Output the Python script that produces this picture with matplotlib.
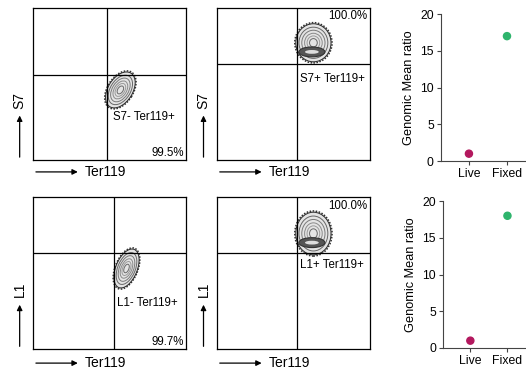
import matplotlib.pyplot as plt
from matplotlib.patches import Ellipse

plt.rcParams['font.family'] = ['Liberation Sans', 'DejaVu Sans']

# flow panels: top-left, top-middle, bottom-left, bottom-middle
stain = ['S7', 'S7', 'L1', 'L1']
gate_names = ['S7- Ter119+', 'S7+ Ter119+', 'L1- Ter119+', 'L1+ Ter119+']
percents = ['99.5%', '100.0%', '99.7%', '100.0%']
gate_x = [48, 52, 53, 52]
gate_y = [56, 63, 63, 63]
# cluster outline: centre x, centre y, width, height, angle (0-100 scale)
clust_x = [57, 63, 61, 63]
clust_y = [46, 77, 53, 76]
clust_w = [26, 23, 27, 23]
clust_h = [16, 25, 14, 28]
clust_ang = [58, 0, 68, 0]
core = [False, True, False, True]

categories = ['Live', 'Fixed']
s7_ratio = [1, 17]
l1_ratio = [1, 18]
dot_colors = ['#b3185e', '#2eb46c']

fig = plt.figure(figsize=(5.26, 3.71), dpi=100)

flow_pos = [[0.063, 0.569, 0.291, 0.410],
            [0.4125, 0.569, 0.291, 0.410],
            [0.063, 0.059, 0.291, 0.410],
            [0.4125, 0.059, 0.291, 0.410]]
label_pos = [(0.52, 0.28), (0.54, 0.53), (0.55, 0.30), (0.54, 0.55)]
pct_y = [0.045, 0.947, 0.05, 0.94]
arrow_y = [-0.079, -0.079, -0.092, -0.092]

for i in range(4):
    ax = fig.add_axes(flow_pos[i])
    ax.set_xlim(0, 100)
    ax.set_ylim(0, 100)
    ax.set_xticks([])
    ax.set_yticks([])
    for s in ax.spines.values():
        s.set_linewidth(0.9)
    ax.axvline(gate_x[i], color='black', lw=0.9)
    ax.axhline(gate_y[i], color='black', lw=0.9)

    # contour-like cluster
    c = (clust_x[i], clust_y[i])
    ax.add_patch(Ellipse(c, clust_w[i] * 1.06, clust_h[i] * 1.06, angle=clust_ang[i],
                         fc='#e4e4e4', ec='#333333', lw=1.1, ls=(0, (1, 1))))
    scales = [1.0, 0.82, 0.66, 0.5, 0.36, 0.22]
    shades = ['#2a2a2a', '#666666', '#7a7a7a', '#8a8a8a', '#9a9a9a', '#6a6a6a']
    for sc, col in zip(scales, shades):
        ax.add_patch(Ellipse(c, clust_w[i] * sc, clust_h[i] * sc,
                             angle=clust_ang[i], fill=False, ec=col, lw=0.7))
    if core[i]:
        ax.add_patch(Ellipse((clust_x[i] - 1, clust_y[i] - 6), 17, 6.5, fc='#555555', ec='#333333', lw=0.8))
        ax.add_patch(Ellipse((clust_x[i] - 1, clust_y[i] - 6), 9, 2.5, fc='#dddddd', ec='none'))

    lx, ly = label_pos[i]
    ax.text(lx, ly, gate_names[i], transform=ax.transAxes, fontsize=8.3, ha='left', va='center')
    ax.text(0.985, pct_y[i], percents[i], transform=ax.transAxes, fontsize=8.3, ha='right', va='center')

    # axis arrows
    ay = arrow_y[i]
    ax.annotate('', xy=(0.31, ay), xytext=(0.0, ay), xycoords='axes fraction',
                arrowprops=dict(arrowstyle='-|>', color='black', lw=0.9, mutation_scale=8))
    ax.text(0.34, ay, 'Ter119', transform=ax.transAxes, fontsize=10, ha='left', va='center')
    ax.annotate('', xy=(-0.088, 0.31), xytext=(-0.088, 0.0), xycoords='axes fraction',
                arrowprops=dict(arrowstyle='-|>', color='black', lw=0.9, mutation_scale=8))
    ax.text(-0.088, 0.39, stain[i], transform=ax.transAxes, fontsize=10, rotation=90,
            ha='center', va='center')

scat_pos = [[0.838, 0.566, 0.162, 0.396], [0.842, 0.062, 0.158, 0.396]]
for pos, vals in zip(scat_pos, [s7_ratio, l1_ratio]):
    ax = fig.add_axes(pos)
    ax.scatter(range(len(categories)), vals, c=dot_colors, s=26, zorder=3, clip_on=False)
    ax.set_xlim(-0.74, 1.5)
    ax.set_ylim(0, 20)
    ax.set_yticks([0, 5, 10, 15, 20])
    ax.set_xticks(range(len(categories)))
    ax.set_xticklabels(categories)
    ax.spines['top'].set_visible(False)
    ax.spines['right'].set_visible(False)
    for s in ['left', 'bottom']:
        ax.spines[s].set_color('#444444')
        ax.spines[s].set_linewidth(0.8)
    ax.tick_params(length=3, width=0.8, color='#444444', labelsize=8.8, pad=2)
    ax.set_ylabel('Genomic Mean ratio', fontsize=9.2, labelpad=4)

fig.savefig('out.png', dpi=100)
